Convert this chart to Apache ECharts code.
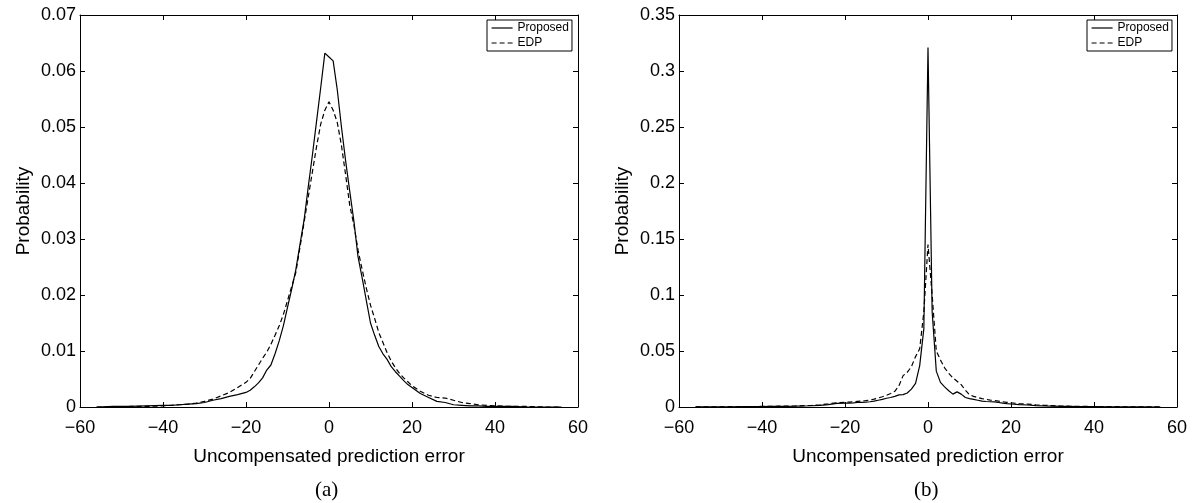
<!DOCTYPE html>
<html>
<head>
<meta charset="utf-8">
<script src="https://cdn.jsdelivr.net/npm/echarts@6/dist/echarts.min.js"></script>
<style>
  html, body { margin: 0; padding: 0; background: #fff; }
  #main { width: 1195px; height: 503px; }
</style>
</head>
<body>
<div id="main"></div>
<script>
// x 位置 (预测误差)
const errX = [-56, -52, -48, -44, -40, -38, -36, -34, -32, -30, -28, -26, -24, -22,
  -20, -19, -18, -17, -16, -15, -14, -13, -12, -11, -10, -9, -8, -7, -6, -5, -4, -3, -2, -1,
  0, 1, 2, 3, 4, 5, 6, 7, 8, 9, 10, 11, 12, 13, 14, 15, 16, 17, 18, 19, 20,
  22, 24, 26, 28, 30, 32, 34, 36, 38, 40, 44, 48, 52, 56];

// (a) 图
const propA = [0, 0.0001, 0.0001, 0.0002, 0.0003, 0.0003, 0.0004, 0.0005, 0.0006, 0.0008, 0.0012, 0.0015, 0.0019, 0.0022,
  0.0026, 0.003, 0.0036, 0.0043, 0.0052, 0.0066, 0.0075, 0.0095, 0.0118, 0.0145, 0.0178, 0.021, 0.0245, 0.029, 0.0334, 0.0393, 0.045, 0.051, 0.057, 0.0632,
  0.0625, 0.0618, 0.0566, 0.050, 0.044, 0.0385, 0.0332, 0.0268, 0.023, 0.019, 0.015, 0.0128, 0.0108, 0.0095, 0.0085, 0.0072, 0.0063, 0.0055, 0.0047, 0.004, 0.0035,
  0.0024, 0.0017, 0.001, 0.0008, 0.0004, 0.0003, 0.0002, 0.0002, 0.0001, 0.0001, 0.0001, 0, 0, 0];
const edpA = [0, 0, 0.0001, 0.0001, 0.0002, 0.0003, 0.0004, 0.0005, 0.0007, 0.001, 0.0014, 0.002, 0.0026, 0.0035,
  0.0044, 0.0051, 0.0063, 0.0075, 0.0087, 0.0098, 0.0112, 0.0128, 0.0145, 0.0165, 0.019, 0.0215, 0.024, 0.0285, 0.033, 0.0375, 0.042, 0.0465, 0.0505, 0.053,
  0.0545, 0.053, 0.0508, 0.0467, 0.0415, 0.036, 0.0325, 0.028, 0.0245, 0.0212, 0.0182, 0.0158, 0.0133, 0.0115, 0.0097, 0.0082, 0.007, 0.006, 0.0052, 0.0045, 0.0038,
  0.0028, 0.0021, 0.0017, 0.0016, 0.0012, 0.0008, 0.0006, 0.0004, 0.0003, 0.0002, 0.0001, 0.0001, 0, 0];

// (b) 图
const propB = [0.0001, 0.0001, 0.0002, 0.0003, 0.0004, 0.0005, 0.0005, 0.0006, 0.0007, 0.0009, 0.0011, 0.0015, 0.0022, 0.0032,
  0.0034, 0.0035, 0.0037, 0.004, 0.0042, 0.0044, 0.0047, 0.0052, 0.006, 0.0068, 0.0078, 0.0085, 0.0095, 0.0108, 0.011, 0.0125, 0.016, 0.021, 0.037, 0.07,
  0.321, 0.085, 0.032, 0.022, 0.018, 0.0145, 0.0115, 0.0135, 0.0115, 0.0085, 0.0075, 0.0068, 0.006, 0.0052, 0.0049, 0.0047, 0.0045, 0.004, 0.0035, 0.003, 0.0027,
  0.0022, 0.0018, 0.0013, 0.001, 0.0008, 0.0006, 0.0005, 0.0004, 0.0003, 0.0003, 0.0002, 0.0001, 0.0001, 0];
const edpB = [0.0001, 0.0002, 0.0003, 0.0004, 0.0005, 0.0006, 0.0007, 0.0008, 0.0009, 0.0012, 0.0015, 0.002, 0.0028, 0.0038,
  0.0042, 0.0044, 0.0047, 0.005, 0.0053, 0.0057, 0.0062, 0.007, 0.008, 0.0092, 0.0105, 0.012, 0.014, 0.019, 0.028, 0.031, 0.036, 0.045, 0.052, 0.085,
  0.145, 0.1, 0.05, 0.042, 0.035, 0.030, 0.026, 0.023, 0.020, 0.015, 0.011, 0.0095, 0.0085, 0.0075, 0.0068, 0.0062, 0.0057, 0.0052, 0.0047, 0.0042, 0.0037,
  0.0031, 0.0026, 0.002, 0.0015, 0.0012, 0.0009, 0.0007, 0.0006, 0.0005, 0.0004, 0.0003, 0.0002, 0.0001, 0.0001];

const seriesNames = ['Proposed', 'EDP'];

const chart = echarts.init(document.getElementById('main'));
const font = 'Liberation Sans, Arial, sans-serif';

function pairs(ys) {
  return errX.map((x, i) => [x, ys[i]]);
}

function fmtX(v) {
  return v < 0 ? '\u2212' + Math.abs(v) : String(v);
}

function axesFor(gi, yMax, yStep, yFmt) {
  const axLine = { show: true, onZero: false, lineStyle: { color: '#000', width: 1 } };
  const tick = { show: true, inside: true, length: 5, lineStyle: { color: '#000' } };
  const xs = [
    {
      type: 'value', gridIndex: gi, min: -60, max: 60, interval: 20, position: 'bottom',
      axisLine: axLine, axisTick: tick,
      axisLabel: { color: '#000', fontSize: 18, fontFamily: font, margin: 12, formatter: fmtX },
      splitLine: { show: false },
      name: 'Uncompensated prediction error', nameLocation: 'middle', nameGap: 40,
      nameTextStyle: { color: '#000', fontSize: 19, fontFamily: font }
    },
    {
      type: 'value', gridIndex: gi, min: -60, max: 60, interval: 20, position: 'top',
      axisLine: axLine, axisTick: tick,
      axisLabel: { show: false }, splitLine: { show: false }
    }
  ];
  const ys = [
    {
      type: 'value', gridIndex: gi, min: 0, max: yMax, interval: yStep, position: 'left',
      axisLine: axLine, axisTick: tick,
      axisLabel: { color: '#000', fontSize: 18, fontFamily: font, margin: 4, formatter: yFmt },
      splitLine: { show: false },
      name: 'Probability', nameLocation: 'middle', nameGap: 47,
      nameTextStyle: { color: '#000', fontSize: 19, fontFamily: font }
    },
    {
      type: 'value', gridIndex: gi, min: 0, max: yMax, interval: yStep, position: 'right',
      axisLine: axLine, axisTick: tick,
      axisLabel: { show: false }, splitLine: { show: false }
    }
  ];
  return { xs, ys };
}

const axA = axesFor(0, 0.07, 0.01, v => v === 0 ? '0' : v.toFixed(2));
const axB = axesFor(1, 0.35, 0.05, v => v === 0 ? '0' : String(+v.toFixed(2)));

function line(name, ys, xi, yi, dashed) {
  return {
    name: name, type: 'line', data: pairs(ys),
    xAxisIndex: xi, yAxisIndex: yi,
    showSymbol: false, symbol: 'none', smooth: false, animation: false,
    lineStyle: { color: '#000', width: 1.2, type: dashed ? [5, 3] : 'solid' },
    itemStyle: { color: '#000' }
  };
}

function legendAt(left) {
  return {
    data: seriesNames, orient: 'vertical', left: left, top: 20,
    backgroundColor: '#fff', borderColor: '#000', borderWidth: 1, borderRadius: 0,
    padding: [2, 3, 2, 4], itemGap: 3, itemWidth: 21, itemHeight: 12,
    selectedMode: false,
    itemStyle: { opacity: 0, borderWidth: 0 },
    lineStyle: { width: 1.2 },
    textStyle: { color: '#000', fontSize: 12, fontFamily: font }
  };
}

chart.setOption({
  backgroundColor: '#fff',
  animation: false,
  grid: [
    { left: 80, top: 15, width: 498, height: 392 },
    { left: 679, top: 15, width: 498, height: 392 }
  ],
  xAxis: axA.xs.concat(axB.xs),
  yAxis: axA.ys.concat(axB.ys),
  legend: [legendAt(487), legendAt(1087)],
  series: [
    line(seriesNames[0], propA, 0, 0, false),
    line(seriesNames[1], edpA, 0, 0, true),
    line(seriesNames[0], propB, 2, 2, false),
    line(seriesNames[1], edpB, 2, 2, true)
  ],
  graphic: [
    { type: 'text', left: 329 - 14, top: 480, style: { text: '(a)', font: '21px "Liberation Serif", "Times New Roman", serif', fill: '#000' } },
    { type: 'text', left: 928 - 14, top: 480, style: { text: '(b)', font: '21px "Liberation Serif", "Times New Roman", serif', fill: '#000' } }
  ]
});
</script>
</body>
</html>
